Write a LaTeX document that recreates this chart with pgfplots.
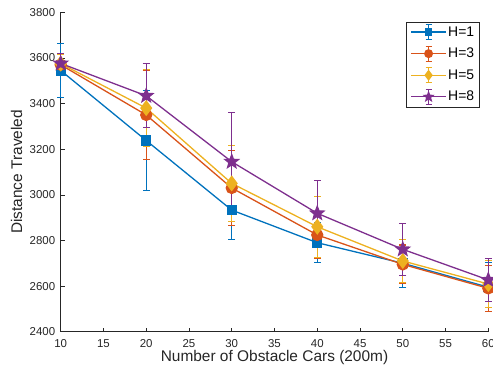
\documentclass[border=0pt]{standalone}
\usepackage{pgfplots}
\pgfplotsset{compat=1.18}
\usepackage{fontspec}
\setmainfont{Liberation Sans}
\definecolor{c1}{rgb}{0,0.447,0.741}
\definecolor{c2}{rgb}{0.85,0.325,0.098}
\definecolor{c3}{rgb}{0.929,0.694,0.125}
\definecolor{c4}{rgb}{0.494,0.184,0.556}
\definecolor{axgray}{rgb}{0.15,0.15,0.15}
\pgfdeclareplotmark{pentagram}{%
  \pgfpathmoveto{\pgfpointpolar{90}{\pgfplotmarksize}}%
  \pgfpathlineto{\pgfpointpolar{126}{0.42\pgfplotmarksize}}%
  \pgfpathlineto{\pgfpointpolar{162}{\pgfplotmarksize}}%
  \pgfpathlineto{\pgfpointpolar{198}{0.42\pgfplotmarksize}}%
  \pgfpathlineto{\pgfpointpolar{234}{\pgfplotmarksize}}%
  \pgfpathlineto{\pgfpointpolar{270}{0.42\pgfplotmarksize}}%
  \pgfpathlineto{\pgfpointpolar{306}{\pgfplotmarksize}}%
  \pgfpathlineto{\pgfpointpolar{342}{0.42\pgfplotmarksize}}%
  \pgfpathlineto{\pgfpointpolar{18}{\pgfplotmarksize}}%
  \pgfpathlineto{\pgfpointpolar{54}{0.42\pgfplotmarksize}}%
  \pgfpathclose
  \pgfusepathqfillstroke
}
\pgfplotsset{
  legerr/.style={legend image code/.code={%
    \draw[##1,mark=none] (0bp,0bp) -- (35bp,0bp);
    \draw[##1,mark=none,line width=1.1bp] (17.5bp,-7.5bp) -- (17.5bp,7.5bp)
      (14.5bp,-7.5bp) -- (20.5bp,-7.5bp) (14.5bp,7.5bp) -- (20.5bp,7.5bp);
    \draw[##1,mark size=#1] plot coordinates {(17.5bp,0bp)};
  }},
}
\begin{document}
\begin{tikzpicture}
\begin{axis}[
  scale only axis,
  width=427.6bp, height=319.4bp,
  xmin=10, xmax=60, ymin=2400, ymax=3800,
  xtick={10,15,...,60},
  ytick={2400,2600,...,3800},
  axis lines*=left,
  axis line style={axgray, line width=0.6bp},
  tick style={axgray, line width=0.6bp},
  tick align=inside,
  major tick length=4bp,
  clip=false,
  /pgf/number format/assume math mode=true,
  /pgf/number format/1000 sep={},
  ticklabel style={font=\fontsize{11.5}{12}\selectfont, text=axgray},
  yticklabel style={xshift=-2bp},
  xticklabel style={yshift=-4.5bp},
  xlabel={Number of Obstacle Cars (200m)},
  ylabel={Distance Traveled},
  every axis x label/.style={at={(axis description cs:0.5,-0.0814)}, anchor=center,
    font=\fontsize{15.5}{16}\selectfont, text=axgray},
  every axis y label/.style={at={(axis description cs:-0.1029,0.5)}, anchor=center, rotate=90,
    font=\fontsize{15.5}{16}\selectfont, text=axgray},
  legend style={at={(axis description cs:0.9806,0.9706)}, anchor=north east,
    draw=axgray, line width=0.6bp, font=\fontsize{14}{14}\selectfont, text=black,
    inner xsep=4bp, inner ysep=2bp, row sep=5.5bp,
    nodes={inner sep=1.5bp}},
  legend cell align=left,
  every axis plot/.append style={line width=1.3bp},
  error bars/error bar style={line width=1.1bp},
  error bars/error mark options={rotate=90, mark size=3.5bp, line width=1.1bp},
]
\addplot[color=c1, mark=square*, mark size=4.5bp, mark options={solid, fill=c1}, legerr=3.2bp,
  error bars/.cd, y dir=both, y explicit]
  coordinates {(10,3545) +- (0,118) (20,3238) +- (0,221) (30,2933) +- (0,127)
               (40,2790) +- (0,87) (50,2700) +- (0,105) (60,2595) +- (0,107)};
\addlegendentry{H=1}
\addplot[color=c2, mark=*, mark size=5.5bp, mark options={solid, fill=c2}, legerr=3.8bp,
  error bars/.cd, y dir=both, y explicit]
  coordinates {(10,3570) +- (0,45) (20,3350) +- (0,195) (30,3030) +- (0,165)
               (40,2824) +- (0,102) (50,2695) +- (0,85) (60,2590) +- (0,102)};
\addlegendentry{H=3}
\addplot[color=c3, mark=diamond*, mark size=7bp, mark options={solid, fill=c3}, legerr=4.5bp,
  error bars/.cd, y dir=both, y explicit]
  coordinates {(10,3575) +- (0,40) (20,3380) +- (0,170) (30,3050) +- (0,168)
               (40,2860) +- (0,133) (50,2710) +- (0,95) (60,2609) +- (0,104)};
\addlegendentry{H=5}
\addplot[color=c4, mark=pentagram, mark size=7bp, mark options={solid, fill=c4}, legerr=4.5bp,
  error bars/.cd, y dir=both, y explicit]
  coordinates {(10,3576) +- (0,45) (20,3434) +- (0,140) (30,3145) +- (0,215)
               (40,2919) +- (0,145) (50,2761) +- (0,115) (60,2627) +- (0,93)};
\addlegendentry{H=8}
\end{axis}
\pgfresetboundingbox
\path[use as bounding box] ([shift={(-60.7bp,-42.3bp)}]current axis.south west) rectangle ([shift={(4.7bp,12.3bp)}]current axis.north east);
\end{tikzpicture}
\end{document}
